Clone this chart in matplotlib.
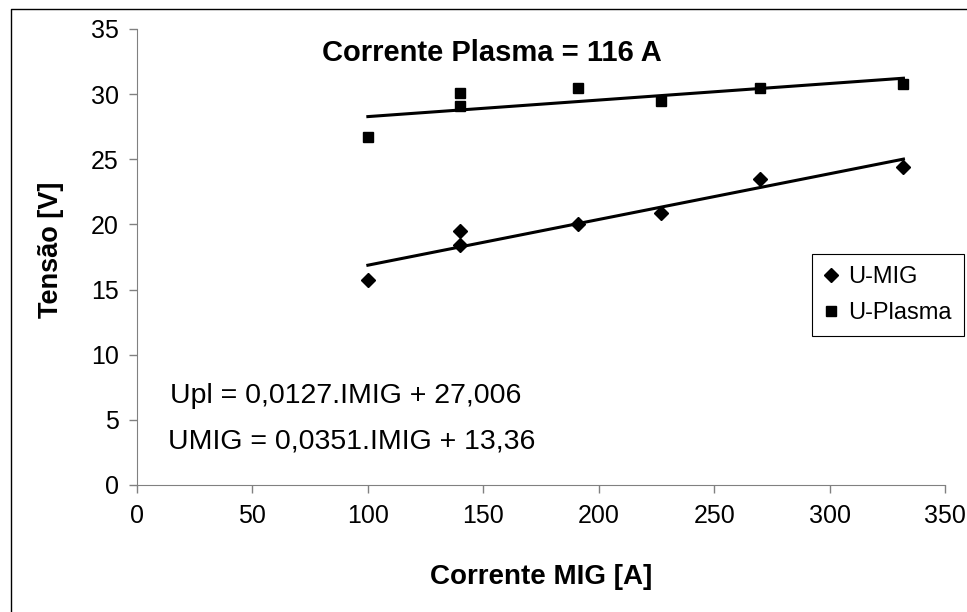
import numpy as np
import matplotlib
matplotlib.use("Agg")
import matplotlib.pyplot as plt
from matplotlib.lines import Line2D

plt.rcParams['font.family'] = ['Liberation Sans', 'DejaVu Sans']

# data
i_mig = [100, 140, 140, 191, 227, 270, 332]
u_mig = [15.7, 19.5, 18.4, 20.0, 20.9, 23.5, 24.4]
i_pl = [100, 140, 140, 191, 227, 270, 332]
u_pl = [26.7, 30.1, 29.1, 30.5, 29.5, 30.5, 30.8]

# linear fits as printed on the chart
fit_mig = (0.0351, 13.36)
fit_pl = (0.0127, 27.006)
fit_range = [100, 332]

x_ticks = [0, 50, 100, 150, 200, 250, 300, 350]
y_ticks = [0, 5, 10, 15, 20, 25, 30, 35]

W, H = 967, 612
fig = plt.figure(figsize=(W / 100, H / 100), dpi=100)
ax = fig.add_axes([137 / W, 1 - 485 / H, 808 / W, 456 / H])

xr = np.array(fit_range)
ax.plot(xr, fit_pl[0] * xr + fit_pl[1], color='black', lw=2.2, zorder=2)
ax.plot(xr, fit_mig[0] * xr + fit_mig[1], color='black', lw=2.2, zorder=2)

ax.plot(i_mig, u_mig, ls='none', marker='D', ms=7.5, color='black', label='U-MIG', zorder=3)
ax.plot(i_pl, u_pl, ls='none', marker='s', ms=7.5, color='black', label='U-Plasma', zorder=3)

ax.set_xlim(0, 350)
ax.set_ylim(0, 35)
ax.set_xticks(x_ticks)
ax.set_yticks(y_ticks)
ax.tick_params(direction='out', length=6, width=1, color='#808080', labelsize=18)
ax.tick_params(axis='x', pad=8)
ax.tick_params(axis='y', pad=7)
for s in ['top', 'right']:
    ax.spines[s].set_visible(False)
for s in ['left', 'bottom']:
    ax.spines[s].set_color('#808080')

fig.text(541 / W, 1 - 577 / H, 'Corrente MIG [A]', fontsize=20, fontweight='bold',
         ha='center', va='center')
fig.text(51 / W, 1 - 250 / H, 'Tensão [V]', fontsize=19.5, fontweight='bold',
         ha='center', va='center', rotation=90)

fig.text(492 / W, 1 - 53 / H, 'Corrente Plasma = 116 A', fontsize=21, fontweight='bold',
         ha='center', va='center')
fig.text(170 / W, 1 - 396 / H, 'Upl = 0,0127.IMIG + 27,006', fontsize=20.5, ha='left', va='center')
fig.text(168 / W, 1 - 442 / H, 'UMIG = 0,0351.IMIG + 13,36', fontsize=20.5, ha='left', va='center')

leg = fig.legend(loc='upper left', bbox_to_anchor=(812 / W, 1 - 254 / H), fontsize=17,
                 frameon=True, fancybox=False, edgecolor='black', framealpha=1,
                 handlelength=0.6, handletextpad=0.45, borderpad=0.5, labelspacing=0.6,
                 borderaxespad=0)
leg.get_frame().set_linewidth(0.8)

# chart area border, only the top and left edges are inside the picture
fig.add_artist(Line2D([11 / W, 11 / W, 1], [0, 1 - 9 / H, 1 - 9 / H],
                      transform=fig.transFigure, color='black', lw=1))

fig.savefig('out.png', dpi=100)
